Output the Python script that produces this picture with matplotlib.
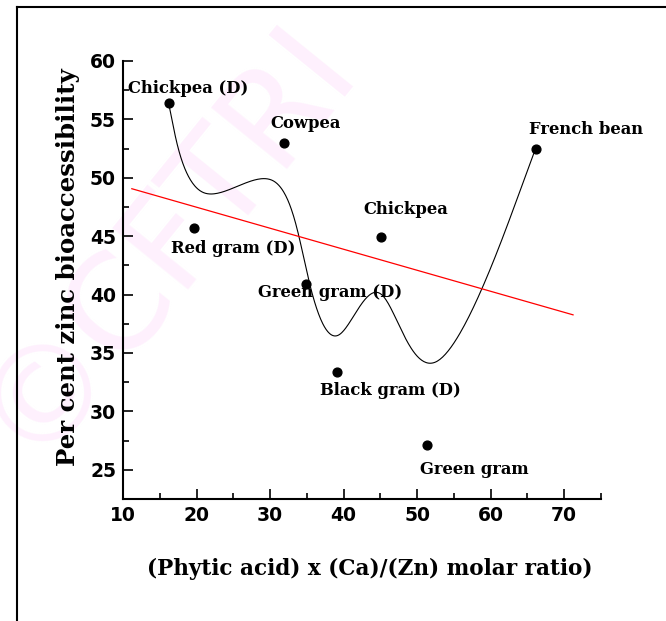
import numpy as np
import matplotlib
matplotlib.use("Agg")
import matplotlib.pyplot as plt
from matplotlib.lines import Line2D

# Pulse samples: (phytic acid) x (Ca)/(Zn) molar ratio vs per cent zinc bioaccessibility
samples = ["Chickpea (D)", "Red gram (D)", "Cowpea", "Green gram (D)",
           "Black gram (D)", "Chickpea", "Green gram", "French bean"]
molar_ratio = [16.2, 19.6, 31.9, 34.9, 39.1, 45.1, 51.3, 66.1]
bioaccess = [56.4, 45.7, 53.0, 40.9, 33.4, 44.9, 27.1, 52.5]

x_ticks = [10, 20, 30, 40, 50, 60, 70]
y_ticks = [25, 30, 35, 40, 45, 50, 55, 60]

# label offsets in pixels (dx, dy) from each point
label_offsets = [(20, 15), (40, -20), (22, 19), (24, -8),
                 (53, -19), (25, 28), (48, -24), (51, 19)]


def bspline(ctrl, n=60):
    # uniform cubic B-spline, end points tripled so the curve meets them
    ctrl = np.asarray(ctrl, dtype=float)
    q = np.vstack([ctrl[:1], ctrl[:1], ctrl, ctrl[-1:], ctrl[-1:]])
    t = np.linspace(0, 1, n)[:, None]
    b0 = (1 - t) ** 3 / 6
    b1 = (3 * t ** 3 - 6 * t ** 2 + 4) / 6
    b2 = (-3 * t ** 3 + 3 * t ** 2 + 3 * t + 1) / 6
    b3 = t ** 3 / 6
    segs = [b0 * q[i] + b1 * q[i + 1] + b2 * q[i + 2] + b3 * q[i + 3]
            for i in range(len(q) - 3)]
    return np.vstack(segs)


fig = plt.figure(figsize=(6.66, 6.21), dpi=100)

# faint watermark behind everything
fig.text(165 / 666, 1 - 238 / 621, "\u00a9CFTRI", rotation=51, fontsize=96,
         color="#fef0fd", ha="center", va="center", family="DejaVu Sans",
         zorder=0)

ax = fig.add_axes([123 / 666, 1 - 499 / 621, 478 / 666, 438 / 621], zorder=1)
ax.patch.set_alpha(0)

pts = bspline(np.column_stack([molar_ratio, bioaccess]))
ax.plot(pts[:, 0], pts[:, 1], color="black", lw=0.8)

slope, icpt = np.polyfit(molar_ratio, bioaccess, 1)
fx = np.array([11.2, 71.2])
ax.plot(fx, slope * fx + icpt, color="red", lw=0.9)

ax.scatter(molar_ratio, bioaccess, s=40, color="black", zorder=3)

for name, x, y, off in zip(samples, molar_ratio, bioaccess, label_offsets):
    ax.annotate(name, (x, y), xytext=off, textcoords="offset pixels",
                ha="center", va="center", fontsize=11.8, fontweight="bold",
                family="DejaVu Serif")

ax.set_xlim(10, 75)
ax.set_ylim(22.5, 60)
ax.set_xticks(x_ticks)
ax.set_yticks(y_ticks)
ax.set_xticks(np.arange(15, 76, 10), minor=True)
ax.set_yticks(np.arange(27.5, 60, 5), minor=True)
for lbl in ax.get_xticklabels() + ax.get_yticklabels():
    lbl.set_fontfamily("DejaVu Sans")
    lbl.set_fontweight("bold")
    lbl.set_fontsize(13.5)
ax.tick_params(which="major", direction="in", length=7, width=1.2, pad=5)
ax.tick_params(which="minor", direction="in", length=4, width=1.2)
ax.spines["top"].set_visible(False)
ax.spines["right"].set_visible(False)
ax.spines["left"].set_linewidth(1.5)
ax.spines["bottom"].set_linewidth(1.5)

ax.set_ylabel("Per cent zinc bioaccessibility", fontsize=17.6, fontweight="bold",
              family="DejaVu Serif")
ax.yaxis.set_label_coords(-0.09, 0.53)
ax.set_xlabel("(Phytic acid) x (Ca)/(Zn) molar ratio)", fontsize=15.5,
              fontweight="bold", family="DejaVu Serif")
ax.xaxis.set_label_coords(0.517, -0.135)

# outer frame (top and left edges)
fig.add_artist(Line2D([17 / 666, 17 / 666], [0, 1 - 7 / 621], color="black", lw=1.5))
fig.add_artist(Line2D([17 / 666, 1], [1 - 7 / 621, 1 - 7 / 621], color="black", lw=1.5))

fig.savefig("out.png", dpi=100)
